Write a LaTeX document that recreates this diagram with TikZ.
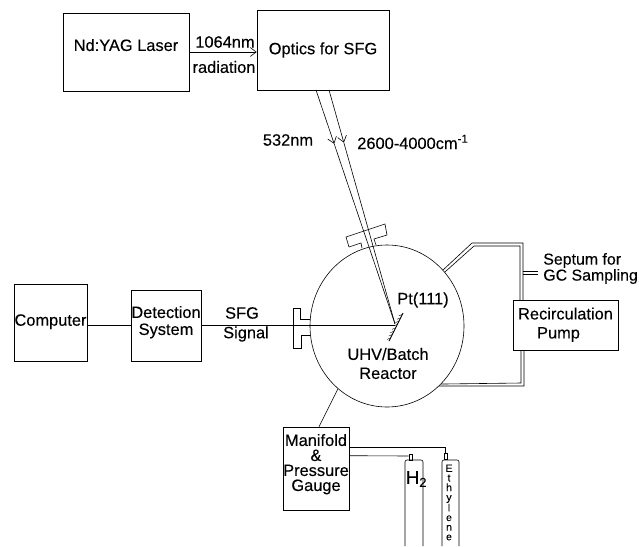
\documentclass[tikz,border=0pt]{standalone}
\usepackage{fontspec}
\setmainfont[FakeBold=0.2]{Liberation Sans}
\usetikzlibrary{arrows.meta,positioning,calc,shapes.geometric}
\newcommand{\labelfont}{\fontsize{16.4}{17}\selectfont}
\tikzset{
  diagbox/.style={draw,rectangle,inner sep=0pt,align=center,font=\labelfont},
  lbl/.style={inner sep=0pt,align=center,font=\labelfont},
  valve/.style={draw,rectangle,inner sep=0pt,minimum width=3pt,minimum height=6pt},
  barb/.style={-{Straight Barb[length=6pt,width=9pt]}}
}

\begin{document}
\begin{tikzpicture}[x=1pt,y=-1pt,line width=0.6pt]
  \useasboundingbox (0,0) rectangle (639,546);
  % boxes
  \node[diagbox,minimum width=126pt,minimum height=78pt,text depth=14pt] (laser) at (126,52) {Nd:YAG Laser};
  \node[diagbox,minimum width=132pt,minimum height=80pt] (optics) at (323,50) {Optics for SFG};
  \node[diagbox,minimum width=73pt,minimum height=77pt,text depth=5pt] (computer) at (50.5,322.5) {Computer};
  \node[diagbox,minimum width=70pt,minimum height=71pt,text depth=10pt] (detection) at (166,325.5) {Detection\\System};
  \node[diagbox,minimum width=66pt,minimum height=83pt,text depth=12pt] (manifold) at (316,468.5) {Manifold\\[-2pt]\&\\[-2pt]Pressure\\[-2pt]Gauge};
  \node[diagbox,minimum width=105pt,minimum height=50pt,text depth=4pt] (recirc) at (565.5,325) {Recirculation\\[2pt]Pump\hspace*{14pt}};
  \node[draw,ellipse,inner sep=0pt,minimum width=154pt,minimum height=162pt] (reactor) at (387,326) {};
  % sample
  \coordinate (sampletop) at (403,313);
  \coordinate (samplelow) at (389,341);
  \coordinate (focus) at (395,324);
  \draw[line width=0.9pt] (sampletop) -- (samplelow);
  \foreach \s in {0.05,0.17,...,1} {
    \draw[line width=0.4pt] ($(sampletop)!\s!(samplelow)$) -- ++(-3.5,1.5);
  }
  % beams
  \coordinate (beamA) at (316,90);
  \coordinate (beamB) at (329,90);
  \draw[barb] (beamA) -- ($(beamA)!0.23!(focus)$);
  \draw ($(beamA)!0.23!(focus)$) -- (focus);
  \draw[barb] (beamB) -- ($(beamB)!0.225!(focus)$);
  \draw ($(beamB)!0.225!(focus)$) -- (focus);
  \draw[barb] (laser.east) -- (optics.west |- laser.east);
  % signal
  \draw (computer.east |- detection.west) -- (detection.west);
  \draw (detection.east) -- (focus |- detection.east);
  % flanges
  \draw (349,247) -- (346,237) -- (385,224) -- (387,235) -- (374,239) -- (376,245);
  \draw (349,247) -- (361,243) -- (362,248);
  \draw (310,319) -- (300,319) -- (300,308) -- (293,308) -- (293,348) -- (301,348) -- (301,335) -- (310,335);
  % tubes to the pump
  \draw (reactor.45) -- (472,243) -- (523,243) -- (523,300);
  \draw (reactor.43) -- (474,246) -- (520,246) -- (520,300);
  \draw (523,271) -- (538,271);
  \draw (523,274) -- (538,274);
  \draw (521,350) -- (521,383) -- (reactor.-47);
  \draw (524,350) -- (524,386) -- (reactor.-49);
  % manifold and cylinders
  \draw (manifold.north) ++(3,0) -- (reactor.232);
  \node[valve] (h2valve) at (410.5,457) {};
  \node[valve] (ethvalve) at (445.5,456) {};
  \draw (manifold.north east) ++(0,21) -| (ethvalve.north);
  \draw (manifold.north east) ++(0,29) -- (h2valve.west |- 0,456);
  \draw[rounded corners=2pt] (405,546) -- (405,460) -- (423,460) -- (423,546);
  \draw[rounded corners=2pt] (442,546) -- (442,460) -- (459,460) -- (459,546);
  % labels
  \node[lbl] (wavelength) at (225,42) {1064nm};
  \node[lbl] (radiation) at (224,67) {radiation};
  \node[lbl] (green) at (288,140) {532nm};
  \node[lbl,anchor=west] (infrared) at (357,142) {2600-4000cm\textsuperscript{-1}};
  \node[lbl] (crystal) at (423,300) {Pt(111)};
  \node[lbl] (reactorname) at (388,363.5) {UHV/Batch\\[2pt]Reactor};
  \node[lbl,anchor=west,align=left,font=\fontsize{15.9}{17}\selectfont] (septum) at (543,268.5) {Septum for\\[-1pt]GC Sampling};
  \node[lbl] (sfg) at (242,313) {SFG};
  \node[lbl] (signal) at (246,334) {Signal};
  \node[lbl,font=\fontsize{18.5}{20}\selectfont] (h2) at (416.5,479) {H\textsubscript{2}};
  \node[lbl,font=\fontsize{10.5}{9.6}\selectfont] (ethylene) at (449,502.5) {E\\t\\h\\y\\l\\e\\n\\e};
\end{tikzpicture}
\end{document}
